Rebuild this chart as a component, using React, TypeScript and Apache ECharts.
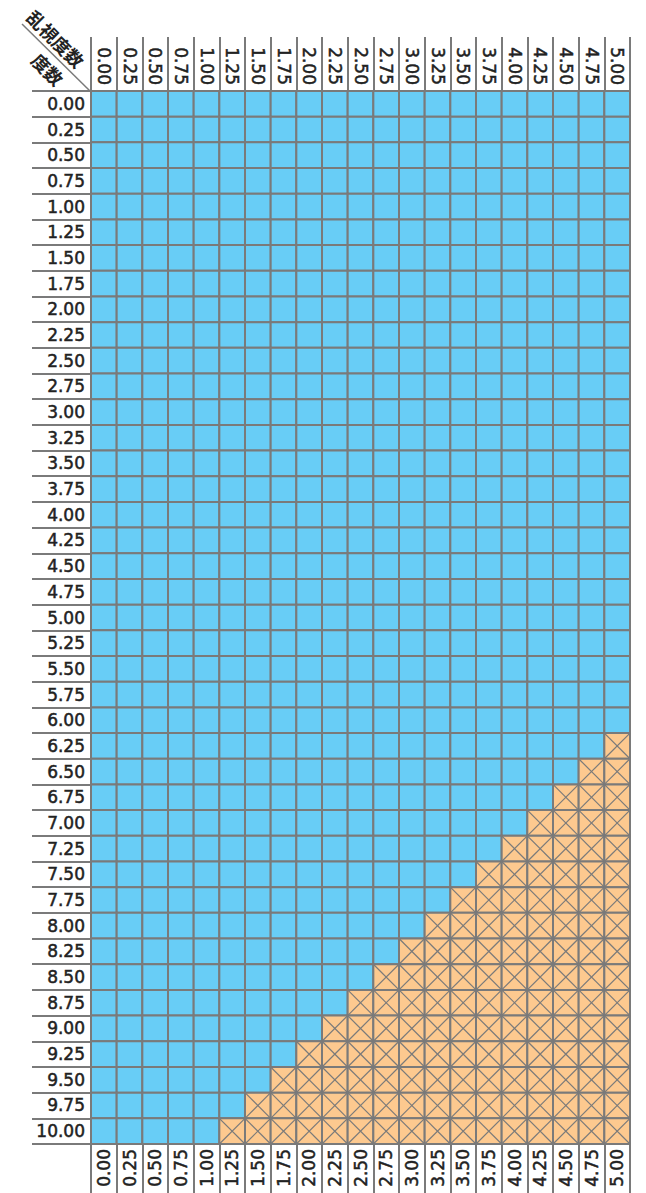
import React, { useEffect, useRef } from "react";
import * as echarts from "echarts";

const cylLabels = [
  "0.00", "0.25", "0.50", "0.75", "1.00", "1.25", "1.50", "1.75", "2.00", "2.25", "2.50",
  "2.75", "3.00", "3.25", "3.50", "3.75", "4.00", "4.25", "4.50", "4.75", "5.00",
];
const sphLabels = [
  "0.00", "0.25", "0.50", "0.75", "1.00", "1.25", "1.50", "1.75", "2.00", "2.25",
  "2.50", "2.75", "3.00", "3.25", "3.50", "3.75", "4.00", "4.25", "4.50", "4.75",
  "5.00", "5.25", "5.50", "5.75", "6.00", "6.25", "6.50", "6.75", "7.00", "7.25",
  "7.50", "7.75", "8.00", "8.25", "8.50", "8.75", "9.00", "9.25", "9.50", "9.75", "10.00",
];
// number of unavailable (orange, crossed) cells at the right end of each row
const unavailableCounts = [
  0, 0, 0, 0, 0, 0, 0, 0, 0, 0,
  0, 0, 0, 0, 0, 0, 0, 0, 0, 0,
  0, 0, 0, 0, 0, 1, 2, 3, 4, 5,
  6, 7, 8, 9, 10, 11, 12, 13, 14, 15, 16,
];
const cornerTop = "乱視度数";
const cornerBottom = "度数";

const BLUE = "#68cdf6";
const ORANGE = "#fdc98f";
const LINE = "#7a7a7a";
const FONT = "'DejaVu Sans', sans-serif";

export default function App() {
  const ref = useRef<HTMLDivElement>(null);
  useEffect(() => {
    if (!ref.current) return;
    const chart = echarts.init(ref.current, undefined, { renderer: "svg" });
    const data: any[] = [];
    sphLabels.forEach((_, r) => {
      cylLabels.forEach((_, c) => {
        const avail = c < cylLabels.length - unavailableCounts[r] ? 1 : 0;
        data.push([c, r, avail]);
      });
    });
    const labelStyle = {
      color: "#222",
      fontSize: 17,
      fontWeight: "normal" as any,
      fontFamily: FONT,
      textBorderColor: "#222",
      textBorderWidth: 0.5,
    };
    chart.setOption({
      animation: false,
      grid: { left: 91, top: 91, width: 539, height: 1053, containLabel: false },
      xAxis: [
        {
          type: "category",
          position: "top",
          data: cylLabels,
          axisLine: { show: true, lineStyle: { color: LINE, width: 2 } },
          axisTick: { show: true, length: 54, lineStyle: { color: LINE, width: 2 } },
          axisLabel: { ...labelStyle, rotate: 90, margin: 6, interval: 0 },
          splitLine: { show: false },
        },
        {
          type: "category",
          position: "bottom",
          data: cylLabels,
          axisLine: { show: true, lineStyle: { color: LINE, width: 2 } },
          axisTick: { show: true, length: 52, lineStyle: { color: LINE, width: 2 } },
          axisLabel: { ...labelStyle, rotate: 90, margin: 5, interval: 0 },
          splitLine: { show: false },
        },
      ],
      yAxis: {
        type: "category",
        inverse: true,
        data: sphLabels,
        axisLine: { show: true, lineStyle: { color: LINE, width: 2 } },
        axisTick: { show: true, length: 59, lineStyle: { color: LINE, width: 2 } },
        axisLabel: { ...labelStyle, margin: 6, interval: 0 },
        splitLine: { show: false },
      },
      graphic: [
        {
          type: "line",
          shape: { x1: 22, y1: 24, x2: 91, y2: 92 },
          style: { stroke: LINE, lineWidth: 1.5 },
        },
        {
          type: "text",
          x: 56,
          y: 38.5,
          rotation: -Math.PI / 4,
          style: {
            text: cornerTop,
            fontSize: 18,
            fontWeight: "bold",
            fontFamily: "'Noto Sans CJK JP', sans-serif",
            fill: "#222",
            align: "center",
            verticalAlign: "middle",
          },
        },
        {
          type: "text",
          x: 48,
          y: 69,
          rotation: -Math.PI / 4,
          style: {
            text: cornerBottom,
            fontSize: 18,
            fontWeight: "bold",
            fontFamily: "'Noto Sans CJK JP', sans-serif",
            fill: "#222",
            align: "center",
            verticalAlign: "middle",
          },
        },
      ],
      series: [
        {
          type: "custom",
          xAxisIndex: 0,
          yAxisIndex: 0,
          data,
          renderItem: (params: any, api: any) => {
            const c = api.value(0);
            const r = api.value(1);
            const avail = api.value(2);
            const center = api.coord([c, r]);
            const size = api.size([1, 1]);
            const x = center[0] - size[0] / 2;
            const y = center[1] - size[1] / 2;
            const w = size[0];
            const h = size[1];
            const children: any[] = [
              {
                type: "rect",
                shape: { x, y, width: w, height: h },
                style: { fill: avail ? BLUE : ORANGE, stroke: LINE, lineWidth: 2 },
              },
            ];
            if (!avail) {
              children.push(
                {
                  type: "line",
                  shape: { x1: x, y1: y, x2: x + w, y2: y + h },
                  style: { stroke: LINE, lineWidth: 1.2 },
                },
                {
                  type: "line",
                  shape: { x1: x + w, y1: y, x2: x, y2: y + h },
                  style: { stroke: LINE, lineWidth: 1.2 },
                }
              );
            }
            return { type: "group", children };
          },
        },
      ],
    });
    return () => chart.dispose();
  }, []);
  return (
    <div
      ref={ref}
      style={{ position: "fixed", left: 0, top: 0, width: 646, height: 1193, background: "#fff" }}
    />
  );
}
